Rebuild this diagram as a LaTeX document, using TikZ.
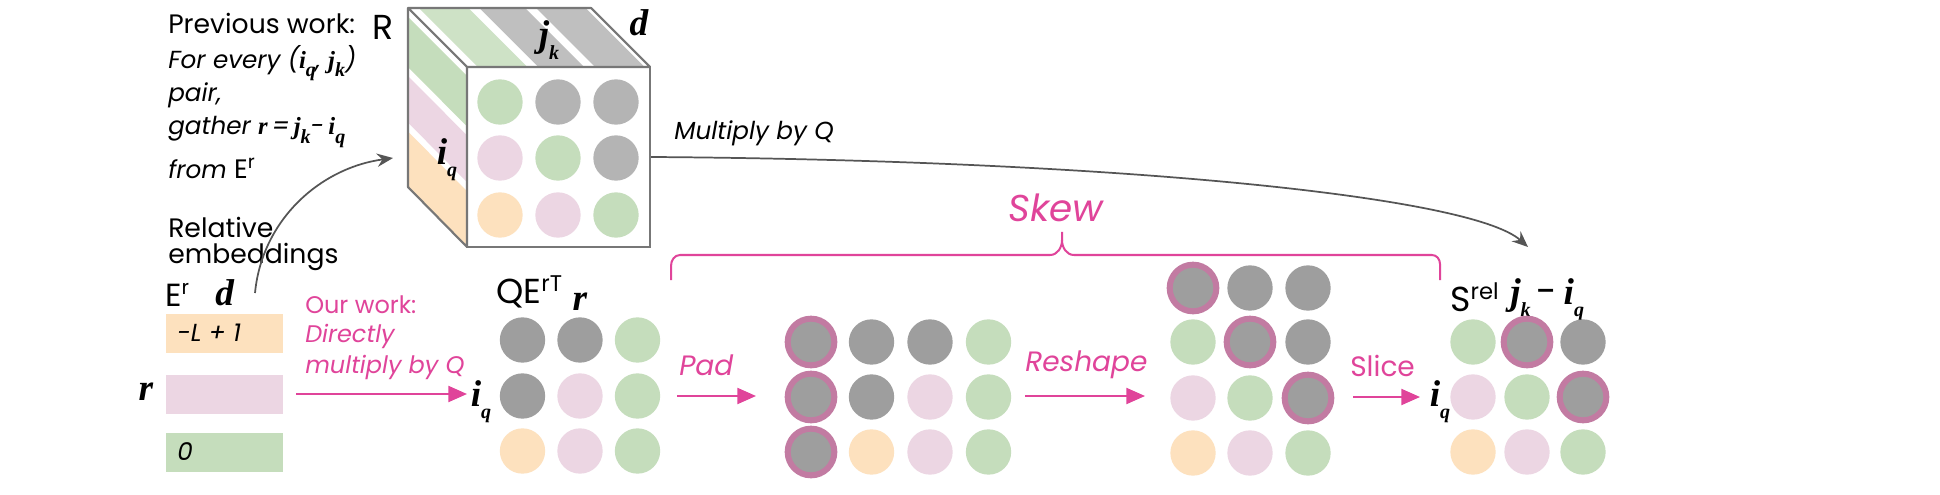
\documentclass[tikz,border=0pt]{standalone}
\usepackage{fontspec}
\setmainfont{Poppins}
\newfontfamily\ms{Liberation Serif}[BoldItalicFont={* Bold Italic}]
\usetikzlibrary{shapes.geometric,calc,arrows.meta}
\definecolor{cgreen}{HTML}{C5DDBC}
\definecolor{cpink}{HTML}{ECD6E3}
\definecolor{corange}{HTML}{FDE1BE}
\definecolor{cgray}{HTML}{9E9E9E}
\definecolor{cgrayl}{HTML}{B4B4B4}
\definecolor{cring}{HTML}{C27BA2}
\definecolor{cmag}{HTML}{E0449A}
\definecolor{cline}{HTML}{555555}
\newcommand{\mv}[1]{{\ms\bfseries\itshape #1}}
\newcommand{\subq}[1]{\raisebox{-0.6ex}{\fontsize{15}{15}\ms\bfseries\itshape #1}}
\newcommand{\iqq}{\mv{i}\subq{q}}
\newcommand{\jkk}{\mv{j}\subq{k}}
\begin{document}
\begin{tikzpicture}[x=0.75pt,y=-0.75pt,
  txt/.style={anchor=west,inner sep=0,font=\fontsize{20}{22}\selectfont},
  itx/.style={txt,font=\fontsize{18.5}{22}\selectfont\itshape},
  mag/.style={itx,text=cmag,font=\fontsize{18}{22}\selectfont\itshape},
  big/.style={itx,text=cmag,font=\fontsize{21}{24}\selectfont\itshape},
  mth/.style={anchor=center,inner sep=0,font=\fontsize{28}{28}\selectfont},
  dot/.style={circle,minimum size=34pt,inner sep=0,draw=none},
  ring/.style={circle,minimum size=35pt,inner sep=0,fill=cgray,draw=cring,line width=4.5pt},
  marrow/.style={draw=cmag,line width=1.6pt,-{Triangle[length=14pt,width=12pt]}},
  garrow/.style={draw=cline,line width=1.3pt,-{Stealth[length=12pt,width=10pt,inset=4pt]}},
  bar/.style={rectangle,minimum width=87.75pt,minimum height=29pt,inner sep=0,anchor=north west}
]
\useasboundingbox[fill=white] (0,0) rectangle (1940,495);

% left text
\node[txt] (t1) at (168,23) {Previous work:};
\node[itx] (t2) at (168,63) {For every (\iqq, \jkk)};
\node[itx] (t3) at (168,95) {pair,};
\node[itx] (t4) at (168,132) {gather \mv{r}\,=\,\jkk-\,\iqq};
\node[itx] (t5) at (168,168) {from {\upshape\fontsize{20}{20}\selectfont E\textsuperscript{r}}};
\node[txt] (t6) at (168,227) {Relative};
\node[txt] (t7) at (168,257) {embeddings};
\node[txt,font=\fontsize{24}{24}\selectfont] (er) at (165,295) {E\textsuperscript{\fontsize{15}{15}\selectfont r}};
\node[mth,anchor=west] (dlab) at (215,293) {\mv{d}};
\node[bar,fill=corange] (b1) at (166,314) {};
\node[bar,fill=cpink] (b2) at (166,375) {};
\node[bar,fill=cgreen] (b3) at (166,433) {};
\node[itx] (b1t) at (177,333) {-L + 1};
\node[itx] (b3t) at (177,452) {0};
\node[mth] (rlab) at (146,392) {\mv{r}};

% cube
\coordinate (A) at (408,8); \coordinate (B) at (591,8);
\coordinate (C) at (650,67); \coordinate (D) at (467,67);
\coordinate (E) at (467,247); \coordinate (F) at (408,187);
\coordinate (G) at (650,247);
\foreach \a/\b/\c in {0.06/0.33/cgreen,0.39/0.64/cgrayl,0.70/0.97/cgrayl}{
  \fill[\c!85!white] ($(A)!\a!(B)$) -- ($(A)!\b!(B)$) -- ($(D)!\b!(C)$) -- ($(D)!\a!(C)$) -- cycle;}
\foreach \a/\b/\c in {0.05/0.33/cgreen,0.38/0.64/cpink,0.69/1/corange}{
  \fill[\c] ($(A)!\a!(F)$) -- ($(A)!\b!(F)$) -- ($(D)!\b!(E)$) -- ($(D)!\a!(E)$) -- cycle;}
\draw[cline!80,line width=1.6pt,line join=round] (A) -- (B) -- (C) -- (D) -- cycle;
\draw[cline!80,line width=1.6pt,line join=round] (A) -- (F) -- (E) -- (D);
\draw[cline!80,line width=1.6pt] (D) rectangle (G);
\node[anchor=center,inner sep=0,font=\fontsize{26}{26}\selectfont] (Rl) at (383,27) {R};
\node[mth] (jk) at (549,40) {\mv{j}\subq{k}};
\node[mth] (iqc) at (447,160) {\mv{i}\subq{q}};
\node[mth] (dc) at (639,23) {\mv{d}};
\foreach \c [count=\i] in {cgreen,cgrayl,cgrayl}{\node[dot,fill=\c] (r1\i) at (442+58*\i,102) {};}
\foreach \c [count=\i] in {cpink,cgreen,cgrayl}{\node[dot,fill=\c] (r2\i) at (442+58*\i,158) {};}
\foreach \c [count=\i] in {corange,cpink,cgreen}{\node[dot,fill=\c] (r3\i) at (442+58*\i,215) {};}

% arrow from E^r to cube
\coordinate (s1) at (255,293);
\coordinate (s2) at (393,158);
\draw[garrow] (s1) .. controls (262,220) and (320,168) .. (s2);
% multiply by Q
\node[itx] (mq) at (674,133) {Multiply by Q};
\coordinate (m1) at (651,157);
\coordinate (m2) at (1528,247);
\draw[garrow] (m1) .. controls (1100,160) and (1470,195) .. (m2);

% our work
\node[mag] (o1) at (305,305) {{\upshape Our work:}};
\node[mag] (o2) at (305,336) {Directly};
\node[mag] (o3) at (305,367) {multiply by Q};
\coordinate (oa) at (296,394); \coordinate (ob) at (467,394);
\draw[marrow] (oa) -- (ob);

% QE
\node[txt,font=\fontsize{26}{26}\selectfont] (qe) at (496,292) {QE\textsuperscript{\fontsize{17}{17}\selectfont rT}};
\node[mth] (qr) at (580,302) {\mv{r}};
\node[mth] (qi) at (481,402) {\mv{i}\subq{q}};
\foreach \c [count=\i] in {cgray,cgray,cgreen}{\node[dot,fill=\c] (q1\i) at (465+57.5*\i,340) {};}
\foreach \c [count=\i] in {cgray,cpink,cgreen}{\node[dot,fill=\c] (q2\i) at (465+57.5*\i,396) {};}
\foreach \c [count=\i] in {corange,cpink,cgreen}{\node[dot,fill=\c] (q3\i) at (465+57.5*\i,451) {};}

% pad
\node[big] (pad) at (679,365) {Pad};
\coordinate (pa) at (677,396); \coordinate (pb) at (756,396);
\draw[marrow] (pa) -- (pb);
\foreach \y [count=\j] in {342,397,452}{\node[ring] (p\j1) at (811,\y) {};}
\foreach \c [count=\i] in {cgray,cgray,cgreen}{\node[dot,fill=\c] (p1\i x) at (813+58.5*\i,342) {};}
\foreach \c [count=\i] in {cgray,cpink,cgreen}{\node[dot,fill=\c] (p2\i x) at (813+58.5*\i,397) {};}
\foreach \c [count=\i] in {corange,cpink,cgreen}{\node[dot,fill=\c] (p3\i x) at (813+58.5*\i,452) {};}

% reshape
\node[big] (rs) at (1025,365) {Reshape};
\coordinate (ra) at (1025,396); \coordinate (rb) at (1145,396);
\draw[marrow] (ra) -- (rb);
\node[ring] (h11) at (1193,288) {};
\node[dot,fill=cgray] (h12) at (1250,288) {};
\node[dot,fill=cgray] (h13) at (1308,288) {};
\node[dot,fill=cgreen] (h21) at (1193,342) {};
\node[ring] (h22) at (1250,342) {};
\node[dot,fill=cgray] (h23) at (1308,342) {};
\node[dot,fill=cpink] (h31) at (1193,398) {};
\node[dot,fill=cgreen] (h32) at (1250,398) {};
\node[ring] (h33) at (1308,398) {};
\node[dot,fill=corange] (h41) at (1193,453) {};
\node[dot,fill=cpink] (h42) at (1250,453) {};
\node[dot,fill=cgreen] (h43) at (1308,453) {};

% slice
\node[big] (sl) at (1350,366) {{\upshape Slice}};
\coordinate (sa) at (1353,397); \coordinate (sb) at (1420,397);
\draw[marrow] (sa) -- (sb);
\node[mth] (si) at (1440,402) {\mv{i}\subq{q}};
\node[txt,font=\fontsize{26}{26}\selectfont] (srel) at (1450,297) {S\textsuperscript{\fontsize{17}{17}\selectfont rel}};
\node[txt,font=\fontsize{28}{28}\selectfont] (sji) at (1510,300) {\mv{j}\subq{k}\,-\,\mv{i}\subq{q}};
\node[dot,fill=cgreen] (s11) at (1473,342) {};
\node[ring] (s12) at (1527,342) {};
\node[dot,fill=cgray] (s13) at (1583,342) {};
\node[dot,fill=cpink] (s21) at (1473,397) {};
\node[dot,fill=cgreen] (s22) at (1527,397) {};
\node[ring] (s23) at (1583,397) {};
\node[dot,fill=corange] (s31) at (1473,452) {};
\node[dot,fill=cpink] (s32) at (1527,452) {};
\node[dot,fill=cgreen] (s33) at (1583,452) {};

% skew brace
\node[anchor=center,inner sep=0,text=cmag,font=\fontsize{28}{28}\selectfont\itshape] (skew) at (1056,208) {Skew};
\draw[cmag,line width=1.5pt] (671,280) -- (671,266) to[out=90,in=180] (680,255) -- (1050,255) to[out=0,in=-90] (1062,240) -- (1062,232);
\draw[cmag,line width=1.5pt] (1062,240) to[out=-90,in=180] (1074,255) -- (1432,255) to[out=0,in=90] (1440,264) -- (1440,280);
\end{tikzpicture}
\end{document}
